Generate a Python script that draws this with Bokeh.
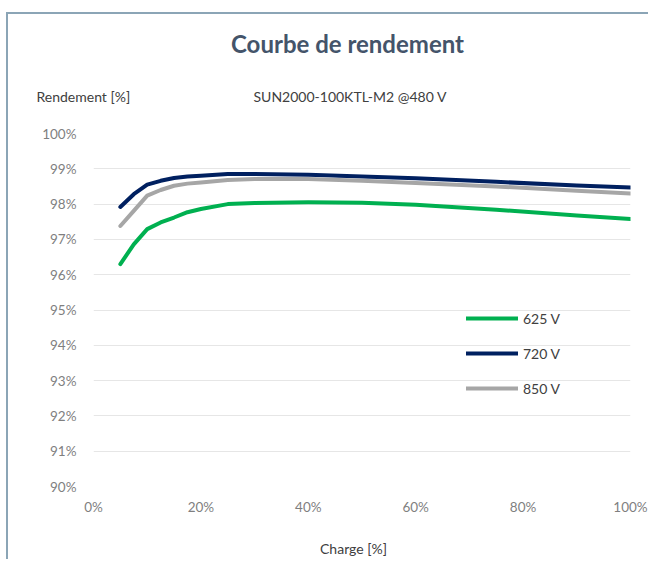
from bokeh.plotting import figure
from bokeh.models import Label, Legend, LegendItem, FixedTicker, Range1d
from bokeh.embed import file_html
from bokeh.resources import INLINE

# data (load %, efficiency %)
load = [5, 7.5, 10, 12.5, 15, 17.5, 20, 25, 30, 40, 50, 60, 75, 90, 100]
eff_625 = [96.30, 96.86, 97.29, 97.48, 97.62, 97.77, 97.86, 98.0, 98.03, 98.05, 98.04, 97.98, 97.84, 97.68, 97.58]
eff_720 = [97.92, 98.28, 98.55, 98.66, 98.74, 98.78, 98.80, 98.85, 98.85, 98.83, 98.78, 98.73, 98.63, 98.53, 98.47]
eff_850 = [97.38, 97.81, 98.24, 98.40, 98.52, 98.58, 98.61, 98.68, 98.71, 98.71, 98.66, 98.60, 98.50, 98.38, 98.30]
series_names = ["625 V", "720 V", "850 V"]
x_ticks = [0, 20, 40, 60, 80, 100]
y_ticks = [90, 91, 92, 93, 94, 95, 96, 97, 98, 99, 100]

FONT = "Lato"
OX, OY = 8, 14          # canvas offset inside the decorative slide frame
W, H = 650 - OX, 561 - OY
p = figure(width=W, height=H, output_backend="svg", toolbar_location=None,
           x_range=Range1d(0, 100), y_range=Range1d(90, 100),
           min_border_left=93 - OX, min_border_right=W - (630 - OX),
           min_border_top=133 - OY, min_border_bottom=H - (486 - OY))
p.styles = {"margin-left": f"{OX}px", "margin-top": f"{OY}px",
            "box-shadow": "-2px -2px 0 0 #8ba5b6"}
p.outline_line_color = None
p.background_fill_color = "white"
p.border_fill_color = "white"

for ax in (p.xaxis[0], p.yaxis[0]):
    ax.axis_line_color = None
    ax.major_tick_line_color = None
    ax.minor_tick_line_color = None
    ax.major_label_text_font = FONT
    ax.major_label_text_font_size = "13.5px"
    ax.major_label_text_color = "#7f7f7f"
p.xaxis.ticker = FixedTicker(ticks=x_ticks)
p.yaxis.ticker = FixedTicker(ticks=y_ticks)
p.xaxis.major_label_overrides = {t: f"{t}%" for t in x_ticks}
p.yaxis.major_label_overrides = {t: f"{t}%" for t in y_ticks}
p.xaxis.major_label_standoff = 6
p.yaxis.major_label_standoff = 11
p.xgrid.grid_line_color = None
p.ygrid.grid_line_color = "#e6e6e6"
p.ygrid.ticker = FixedTicker(ticks=y_ticks)

colors = ["#00b050", "#002060", "#a6a6a6"]
renderers = []
for ys, c in zip([eff_625, eff_720, eff_850], colors):
    r = p.line(load, ys, line_color=c, line_width=4, line_cap="round", line_join="round")
    renderers.append(r)

legend = Legend(items=[LegendItem(label=n, renderers=[r]) for n, r in zip(series_names, renderers)],
                location=(373, 88), glyph_width=52, glyph_height=20, label_height=20,
                spacing=15, label_standoff=5, padding=0, margin=0,
                background_fill_alpha=0, border_line_color=None,
                label_text_font=FONT, label_text_font_size="14px", label_text_color="#404040")
p.add_layout(legend, "center")

def lab(x, y, text, align, size, bold=False, color="#404040", side="above"):
    p.add_layout(Label(x=x - OX, y=y - OY, x_units="canvas", y_units="canvas", text=text, text_align=align,
                       text_baseline="middle", text_font=FONT,
                       text_font_style="bold" if bold else "normal",
                       text_font_size=size, text_color=color), side)

lab(347, 43, "Courbe de rendement", "center", "24px", bold=True, color="#44546a")
lab(36, 96, "Rendement [%]", "left", "14px")
lab(253, 96, "SUN2000-100KTL-M2 @480 V", "left", "14px")
lab(353, 548, "Charge [%]", "center", "14px", side="below")

open("out.html", "w").write(file_html(p, INLINE))
